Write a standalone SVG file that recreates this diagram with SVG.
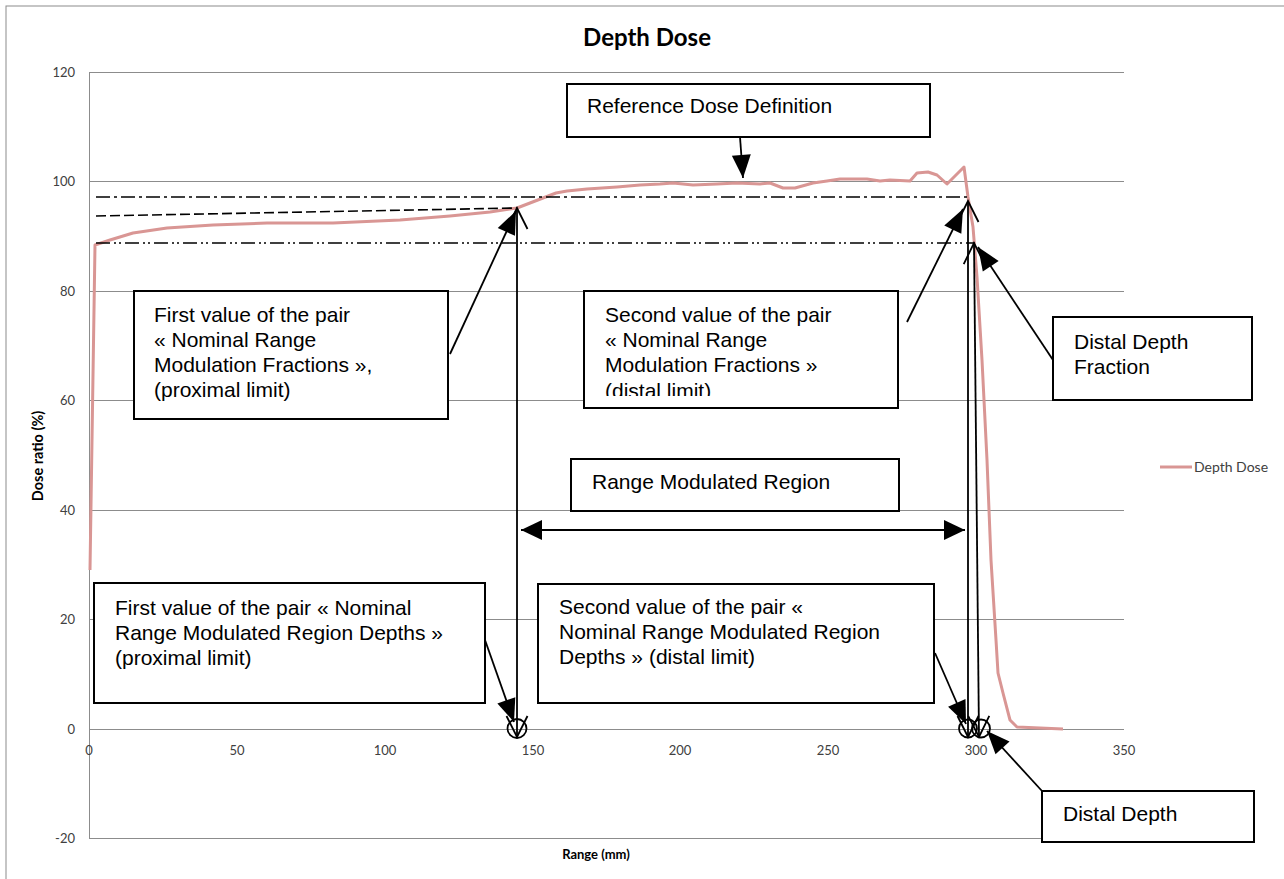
<svg xmlns="http://www.w3.org/2000/svg" width="1284" height="879" viewBox="0 0 1284 879">
<style>
.grid{stroke:#8c8c8c;stroke-width:1;fill:none}
.tick{font-family:Lato,"Liberation Sans",sans-serif;font-size:13px;fill:#404040}
.axt{font-family:Lato,"Liberation Sans",sans-serif;font-size:13px;font-weight:bold;fill:#000}
.box{fill:#fff;stroke:#000;stroke-width:2}
.bt{font-family:"Liberation Sans",Arial,sans-serif;font-size:21px;fill:#000}
.ln{stroke:#000;stroke-width:1.8;fill:none}
.curve{stroke:#D99694;stroke-width:3;fill:none;stroke-linejoin:round}
</style>
<defs>
<marker id="tri" markerUnits="userSpaceOnUse" viewBox="-25 -12 27 24" markerWidth="27" markerHeight="24" refX="0" refY="0" orient="auto">
<path d="M0,0 L-23,-9.5 L-23,9.5 Z" fill="#000"/>
</marker>
<marker id="tri2" markerUnits="userSpaceOnUse" viewBox="-25 -12 27 24" markerWidth="27" markerHeight="24" refX="0" refY="0" orient="auto-start-reverse">
<path d="M0,0 L-21,-10 L-21,10 Z" fill="#000"/>
</marker>
<marker id="vee" markerUnits="userSpaceOnUse" viewBox="-25 -13 28 26" markerWidth="28" markerHeight="26" refX="0" refY="0" orient="auto-start-reverse">
<path d="M-21,-10.5 L0,0 L-21,10.5" fill="none" stroke="#000" stroke-width="1.8"/>
</marker>
<clipPath id="clipD"><rect x="584" y="291" width="314" height="105"/></clipPath>
</defs>
<rect x="0" y="0" width="1284" height="879" fill="#fff"/>
<rect x="6" y="6" width="1300" height="900" fill="#fff" stroke="#8c8c8c" stroke-width="1"/>

<g id="title"><text x="647" y="46" text-anchor="middle" style="font-family:Lato,'Liberation Sans',sans-serif;font-size:24px;font-weight:bold">Depth Dose</text></g>

<g id="gridlines">
<line class="grid" x1="89" y1="72.5" x2="1124" y2="72.5"/>
<line class="grid" x1="89" y1="181.5" x2="1124" y2="181.5"/>
<line class="grid" x1="89" y1="291.5" x2="1124" y2="291.5"/>
<line class="grid" x1="89" y1="400.5" x2="1124" y2="400.5"/>
<line class="grid" x1="89" y1="510.5" x2="1124" y2="510.5"/>
<line class="grid" x1="89" y1="619.5" x2="1124" y2="619.5"/>
<line class="grid" x1="89" y1="729.5" x2="1124" y2="729.5"/>
<line class="grid" x1="89" y1="838.5" x2="1124" y2="838.5"/>
<line class="grid" x1="89.5" y1="72" x2="89.5" y2="839"/>
</g>

<g id="y-ticks" class="tick" text-anchor="end">
<text x="75" y="77">120</text>
<text x="75" y="186">100</text>
<text x="75" y="296">80</text>
<text x="75" y="405">60</text>
<text x="75" y="515">40</text>
<text x="75" y="624">20</text>
<text x="75" y="734">0</text>
<text x="75" y="843">-20</text>
</g>
<g id="x-ticks" class="tick" text-anchor="middle">
<text x="89" y="755">0</text>
<text x="237" y="755">50</text>
<text x="385" y="755">100</text>
<text x="533" y="755">150</text>
<text x="680" y="755">200</text>
<text x="828" y="755">250</text>
<text x="976" y="755">300</text>
<text x="1124" y="755">350</text>
</g>
<g id="axis-titles">
<text class="axt" x="596" y="859" text-anchor="middle">Range (mm)</text>
<text class="axt" x="43" y="456" text-anchor="middle" transform="rotate(-90 43 456)" style="font-size:14.5px">Dose ratio (%)</text>
</g>

<g id="curve">
<polyline class="curve" points="90,570 95,245 110,240 133,233 167,228 213,225 267,223 333,223 400,220 450,216 490,212 517,208 530,203 543,198 556,193 567,191 587,189 617,187 640,185 660,184 673,183 693,185 717,184 737,183 760,184 770,183 783,188 795,188 813,183 827,181 840,179 867,179 880,181 890,180 910,181 917,173 928,172 937,175 947,184 964,167 968,197 973,227 977,277 982,360 987,460 991,560 996,640 998,673 1003,693 1010,720 1017,727 1063,729"/>
</g>

<g id="legend">
<line x1="1160" y1="467" x2="1192" y2="467" stroke="#D99694" stroke-width="3"/>
<text class="tick" x="1194" y="472" style="font-size:14px">Depth Dose</text>
</g>

<g id="reference-lines">
<line x1="96" y1="197" x2="967" y2="197" stroke="#000" stroke-width="1.6" stroke-dasharray="14 4 3 4"/>
<line x1="96" y1="216" x2="517" y2="208" stroke="#000" stroke-width="1.6" stroke-dasharray="10 4"/>
<line x1="96" y1="243" x2="975" y2="243" stroke="#000" stroke-width="1.6" stroke-dasharray="14 4 2 3 2 4"/>
</g>

<g id="connectors">
<line class="ln" x1="517" y1="208" x2="517" y2="737" marker-start="url(#vee)" marker-end="url(#vee)"/>
<line class="ln" x1="968" y1="201" x2="968" y2="737" marker-start="url(#vee)" marker-end="url(#vee)"/>
<line class="ln" x1="974" y1="243" x2="979" y2="737" marker-start="url(#vee)" marker-end="url(#vee)"/>
<circle cx="517" cy="728.5" r="9.5" fill="none" stroke="#000" stroke-width="1.8"/>
<circle cx="968" cy="728.5" r="9" fill="none" stroke="#000" stroke-width="1.8"/>
<circle cx="981" cy="728.5" r="9" fill="none" stroke="#000" stroke-width="1.8"/>
<line class="ln" x1="521" y1="530" x2="965" y2="530" marker-start="url(#tri2)" marker-end="url(#tri2)"/>
<line class="ln" x1="450" y1="354" x2="516" y2="211" marker-end="url(#tri)"/>
<line class="ln" x1="740" y1="137" x2="743" y2="178" marker-end="url(#tri)"/>
<line class="ln" x1="907" y1="322" x2="963" y2="209" marker-end="url(#tri)"/>
<line class="ln" x1="1053" y1="360" x2="978" y2="247" marker-end="url(#tri)"/>
<line class="ln" x1="485" y1="640" x2="514" y2="722" marker-end="url(#tri)"/>
<line class="ln" x1="935" y1="653" x2="966" y2="724" marker-end="url(#tri)"/>
<line class="ln" x1="1042" y1="791" x2="987" y2="731" marker-end="url(#tri)"/>
</g>

<g id="box-reference-dose">
<rect class="box" x="567" y="84" width="363" height="53"/>
<text class="bt" x="587" y="113">Reference Dose Definition</text>
</g>
<g id="box-first-fraction">
<rect class="box" x="134" y="291" width="314" height="128"/>
<text class="bt" x="154" y="322">First value of the pair</text>
<text class="bt" x="154" y="347">« Nominal Range</text>
<text class="bt" x="154" y="372">Modulation Fractions »,</text>
<text class="bt" x="154" y="397">(proximal limit)</text>
</g>
<g id="box-second-fraction">
<rect class="box" x="584" y="291" width="314" height="117"/>
<g clip-path="url(#clipD)">
<text class="bt" x="605" y="322">Second value of the pair</text>
<text class="bt" x="605" y="347">« Nominal Range</text>
<text class="bt" x="605" y="372">Modulation Fractions »</text>
<text class="bt" x="605" y="398">(distal limit)</text>
</g>
</g>
<g id="box-distal-fraction">
<rect class="box" x="1053" y="317" width="199" height="83"/>
<text class="bt" x="1074" y="349">Distal Depth</text>
<text class="bt" x="1074" y="374">Fraction</text>
</g>
<g id="box-range-modulated">
<rect class="box" x="571" y="459" width="328" height="52"/>
<text class="bt" x="592" y="489">Range Modulated Region</text>
</g>
<g id="box-first-depth">
<rect class="box" x="94" y="583" width="391" height="120"/>
<text class="bt" x="115" y="615">First value of the pair « Nominal</text>
<text class="bt" x="115" y="640">Range Modulated Region Depths »</text>
<text class="bt" x="115" y="665">(proximal limit)</text>
</g>
<g id="box-second-depth">
<rect class="box" x="538" y="584" width="396" height="119"/>
<text class="bt" x="559" y="614">Second value of the pair «</text>
<text class="bt" x="559" y="639">Nominal Range Modulated Region</text>
<text class="bt" x="559" y="664">Depths » (distal limit)</text>
</g>
<g id="box-distal-depth">
<rect class="box" x="1042" y="791" width="212" height="51"/>
<text class="bt" x="1063" y="821">Distal Depth</text>
</g>
</svg>
